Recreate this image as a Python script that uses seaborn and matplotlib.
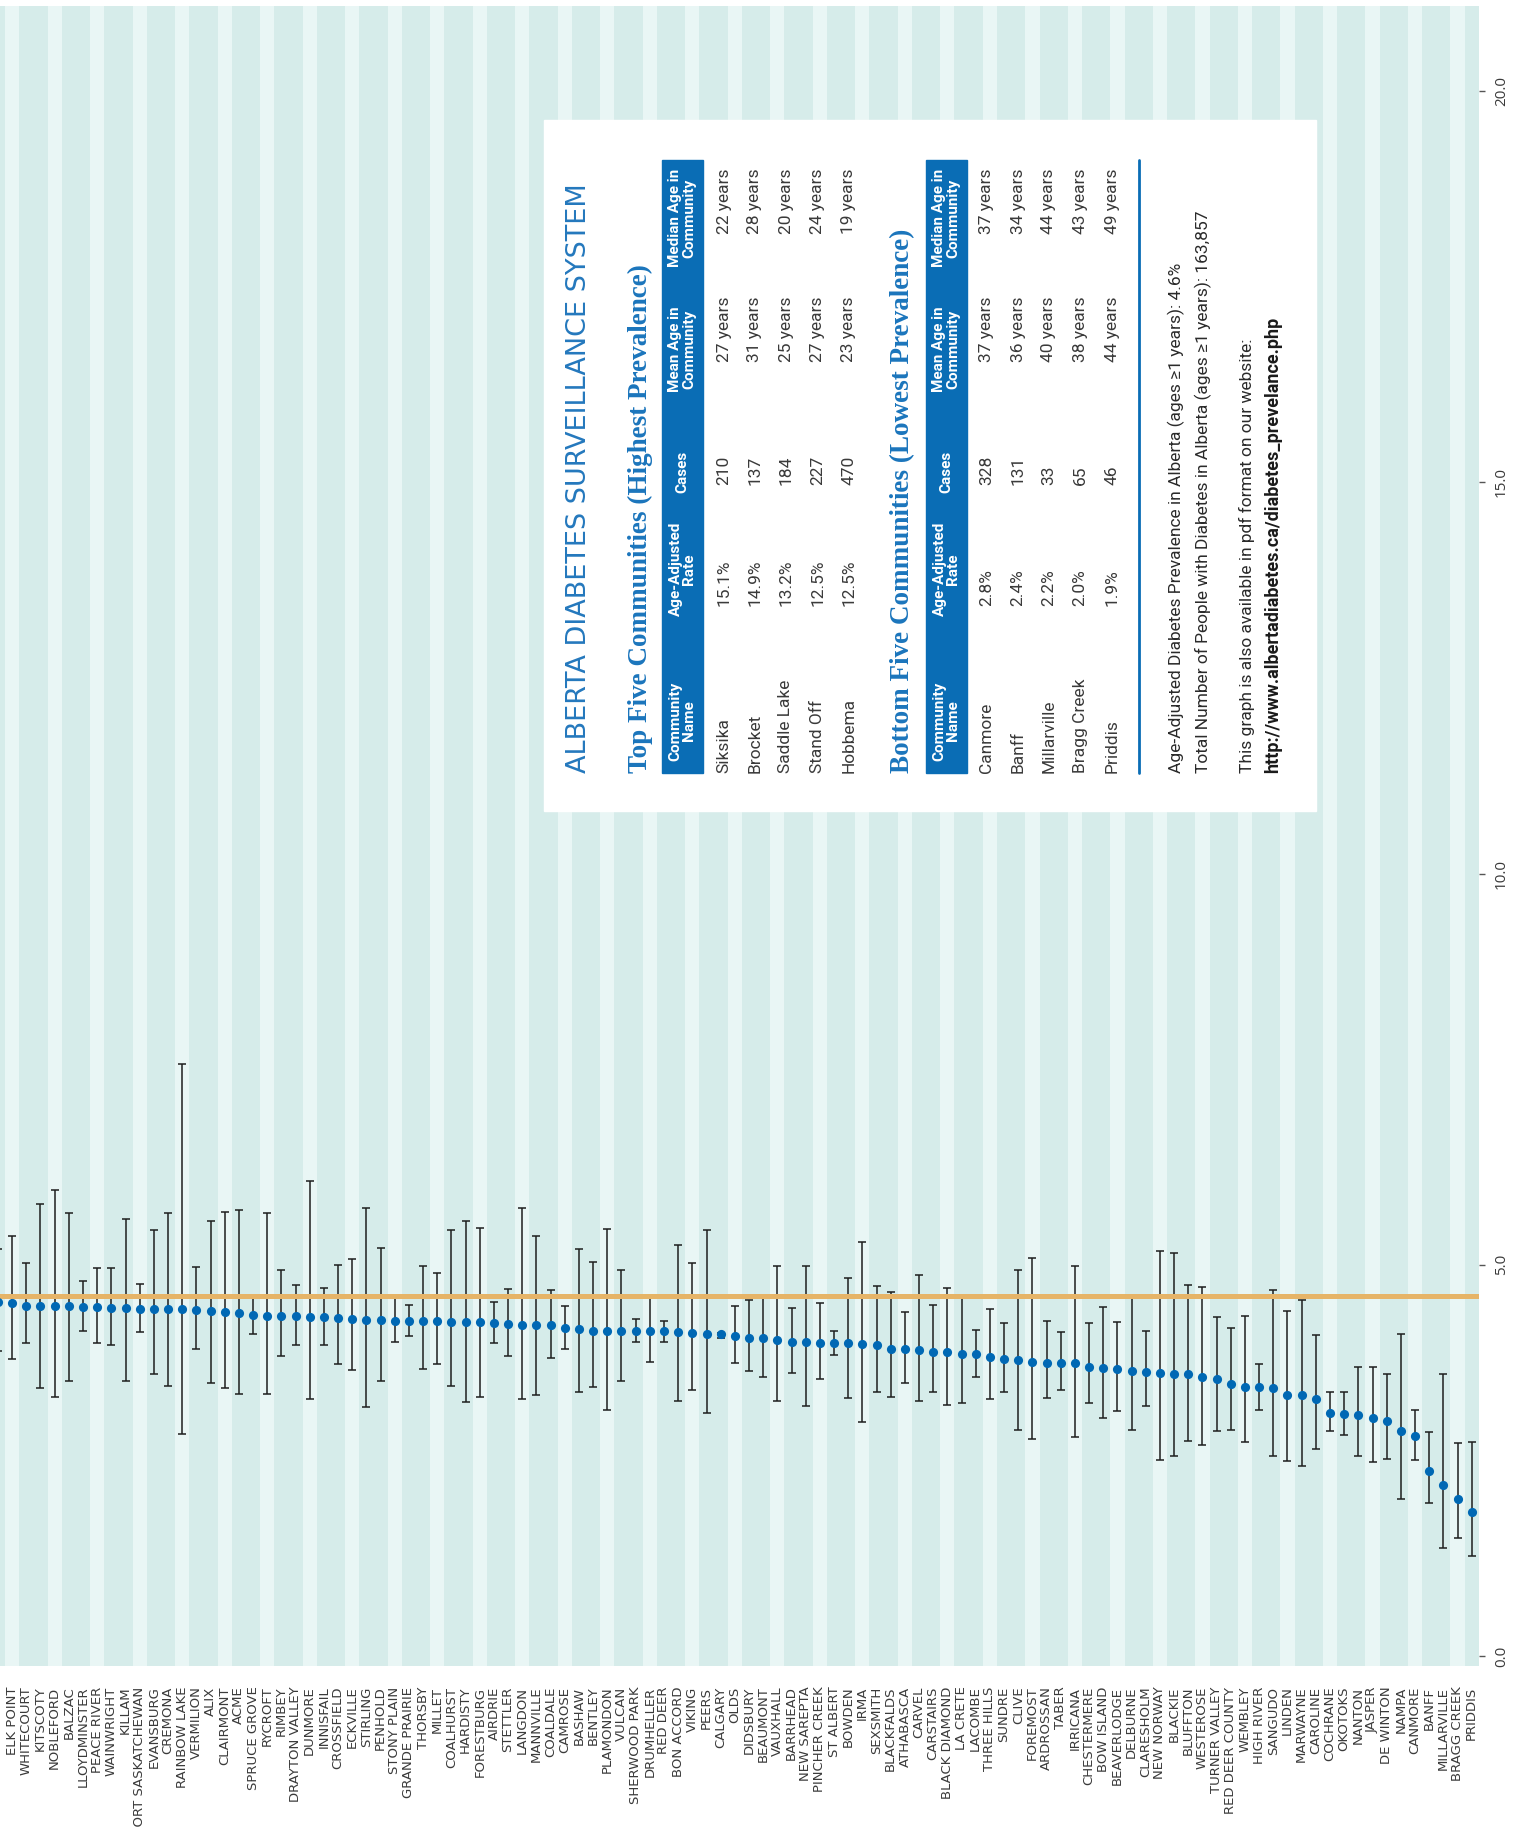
import numpy as np
import pandas as pd
import matplotlib
matplotlib.use("Agg")
import matplotlib.pyplot as plt
from matplotlib.patches import Rectangle
from matplotlib.lines import Line2D
import seaborn as sns

# community rates (age-adjusted %), with lower / upper confidence limits
communities = [
    "HINES CREEK", "ELK POINT", "WHITECOURT", "KITSCOTY", "NOBLEFORD", "BALZAC",
    "LLOYDMINSTER", "PEACE RIVER", "WAINWRIGHT", "KILLAM", "FORT SASKATCHEWAN",
    "EVANSBURG", "CREMONA", "RAINBOW LAKE", "VERMILION", "ALIX", "CLAIRMONT", "ACME",
    "SPRUCE GROVE", "RYCROFT", "RIMBEY", "DRAYTON VALLEY", "DUNMORE", "INNISFAIL",
    "CROSSFIELD", "ECKVILLE", "STIRLING", "PENHOLD", "STONY PLAIN", "GRANDE PRAIRIE",
    "THORSBY", "MILLET", "COALHURST", "HARDISTY", "FORESTBURG", "AIRDRIE", "STETTLER",
    "LANGDON", "MANNVILLE", "COALDALE", "CAMROSE", "BASHAW", "BENTLEY", "PLAMONDON",
    "VULCAN", "SHERWOOD PARK", "DRUMHELLER", "RED DEER", "BON ACCORD", "VIKING",
    "PEERS", "CALGARY", "OLDS", "DIDSBURY", "BEAUMONT", "VAUXHALL", "BARRHEAD",
    "NEW SAREPTA", "PINCHER CREEK", "ST ALBERT", "BOWDEN", "IRMA", "SEXSMITH",
    "BLACKFALDS", "ATHABASCA", "CARVEL", "CARSTAIRS", "BLACK DIAMOND", "LA CRETE",
    "LACOMBE", "THREE HILLS", "SUNDRE", "CLIVE", "FOREMOST", "ARDROSSAN", "TABER",
    "IRRICANA", "CHESTERMERE", "BOW ISLAND", "BEAVERLODGE", "DELBURNE", "CLARESHOLM",
    "NEW NORWAY", "BLACKIE", "BLUFFTON", "WESTEROSE", "TURNER VALLEY",
    "RED DEER COUNTY", "WEMBLEY", "HIGH RIVER", "SANGUDO", "LINDEN", "MARWAYNE",
    "CAROLINE", "COCHRANE", "OKOTOKS", "NANTON", "JASPER", "DE WINTON", "NAMPA",
    "CANMORE", "BANFF", "MILLARVILLE", "BRAGG CREEK", "PRIDDIS",
]
rate = [
    4.52, 4.51, 4.48, 4.48, 4.48, 4.47, 4.46, 4.46, 4.45, 4.45, 4.44, 4.44, 4.43, 4.43,
    4.42, 4.41, 4.40, 4.38, 4.36, 4.35, 4.34, 4.34, 4.33, 4.33, 4.32, 4.31, 4.30, 4.30,
    4.28, 4.28, 4.28, 4.28, 4.27, 4.27, 4.27, 4.25, 4.24, 4.23, 4.23, 4.23, 4.19, 4.18,
    4.16, 4.16, 4.16, 4.15, 4.15, 4.15, 4.14, 4.13, 4.12, 4.11, 4.09, 4.07, 4.06, 4.04,
    4.01, 4.01, 4.00, 4.00, 4.00, 3.99, 3.98, 3.92, 3.92, 3.91, 3.89, 3.89, 3.86, 3.86,
    3.82, 3.79, 3.78, 3.76, 3.75, 3.75, 3.74, 3.70, 3.68, 3.67, 3.64, 3.63, 3.62, 3.61,
    3.60, 3.56, 3.54, 3.48, 3.44, 3.44, 3.43, 3.34, 3.34, 3.28, 3.11, 3.09, 3.08, 3.04,
    3.01, 2.88, 2.81, 2.36, 2.18, 2.01, 1.84,
]
lower = [
    3.90, 3.79, 4.00, 3.43, 3.31, 3.51, 4.15, 4.00, 3.97, 3.52, 4.14, 3.61, 3.45, 2.84,
    3.93, 3.49, 3.42, 3.35, 4.12, 3.35, 3.83, 3.97, 3.28, 3.97, 3.73, 3.65, 3.18, 3.51,
    4.01, 4.09, 3.67, 3.73, 3.45, 3.25, 3.31, 4.00, 3.83, 3.29, 3.34, 3.81, 3.93, 3.38,
    3.44, 3.15, 3.52, 4.01, 3.76, 4.01, 3.26, 3.40, 3.11, 4.07, 3.75, 3.64, 3.56, 3.26,
    3.62, 3.20, 3.54, 3.85, 3.30, 2.99, 3.38, 3.31, 3.49, 3.26, 3.38, 3.21, 3.23, 3.56,
    3.29, 3.38, 2.89, 2.78, 3.30, 3.40, 2.80, 3.23, 3.04, 3.13, 2.89, 3.19, 2.51, 2.56,
    2.75, 2.70, 2.88, 2.89, 2.74, 3.15, 2.56, 2.49, 2.43, 2.64, 2.87, 2.83, 2.56, 2.48,
    2.52, 2.01, 2.51, 1.95, 1.38, 1.51, 1.28,
]
upper = [
    5.20, 5.37, 5.02, 5.78, 5.95, 5.66, 4.79, 4.96, 4.96, 5.59, 4.75, 5.44, 5.66, 7.57,
    4.97, 5.56, 5.67, 5.70, 4.60, 5.66, 4.93, 4.74, 6.07, 4.71, 5.00, 5.08, 5.73, 5.21,
    4.57, 4.49, 4.99, 4.90, 5.45, 5.56, 5.47, 4.53, 4.69, 5.73, 5.37, 4.68, 4.47, 5.20,
    5.04, 5.46, 4.93, 4.31, 4.59, 4.28, 5.25, 5.02, 5.45, 4.13, 4.47, 4.55, 4.61, 4.98,
    4.45, 4.99, 4.51, 4.16, 4.83, 5.29, 4.73, 4.65, 4.40, 4.87, 4.49, 4.71, 4.59, 4.17,
    4.44, 4.26, 4.94, 5.09, 4.28, 4.14, 4.99, 4.26, 4.46, 4.27, 4.58, 4.15, 5.18, 5.15,
    4.74, 4.72, 4.33, 4.19, 4.34, 3.73, 4.68, 4.41, 4.55, 4.10, 3.38, 3.37, 3.70, 3.70,
    3.60, 4.11, 3.15, 2.86, 3.61, 2.72, 2.73,
]
alberta_rate = 4.6
y_ticks = [0.0, 5.0, 10.0, 15.0, 20.0]

# inset tables
top_names = ["Siksika", "Brocket", "Saddle Lake", "Stand Off", "Hobbema"]
top_rates = ["15.1%", "14.9%", "13.2%", "12.5%", "12.5%"]
top_cases = ["210", "137", "184", "227", "470"]
top_mean = ["27 years", "31 years", "25 years", "27 years", "23 years"]
top_median = ["22 years", "28 years", "20 years", "24 years", "19 years"]

bot_names = ["Canmore", "Banff", "Millarville", "Bragg Creek", "Priddis"]
bot_rates = ["2.8%", "2.4%", "2.2%", "2.0%", "1.9%"]
bot_cases = ["328", "131", "33", "65", "46"]
bot_mean = ["37 years", "36 years", "40 years", "38 years", "44 years"]
bot_median = ["37 years", "34 years", "44 years", "43 years", "49 years"]

headers = ["Community\nName", "Age-Adjusted\nRate", "Cases",
           "Mean Age in\nCommunity", "Median Age in\nCommunity"]

df = pd.DataFrame({"community": communities, "rate": rate,
                   "lower": lower, "upper": upper})

sns.set_theme(style="white")
plt.rcParams["font.family"] = ["DejaVu Sans"]

W, H = 1518, 1828
fig = plt.figure(figsize=(W / 100, H / 100), dpi=100)
ax = fig.add_axes([-9.1 / W, 1 - 1665.7 / H, 1487.9 / W, 1659.7 / H])

dark = "#d6ecea"
light = "#e9f6f5"
blue = "#0a6db5"

n = len(df)
for i in range(n):
    ax.axvspan(i - 0.5, i + 0.5, color=light if i % 3 == 1 else dark,
               lw=0, zorder=0)

x = np.arange(n)
ax.errorbar(x, df["rate"], yerr=[df["rate"] - df["lower"], df["upper"] - df["rate"]],
            fmt="none", ecolor="#1e1e1e", elinewidth=1.1, capsize=2.6,
            capthick=1.1, zorder=2)
ax.axhline(alberta_rate, color="#e6b468", lw=3.6, zorder=2.5)
sns.stripplot(data=df, x="community", y="rate", order=communities, jitter=False,
              color="#0068b4", size=6.6, linewidth=0, zorder=3, ax=ax)

ax.set_xlim(-0.5, n - 0.5)
ax.set_ylim(-0.124, 21.09)
ax.set_xlabel("")
ax.set_ylabel("")
for s in ax.spines.values():
    s.set_visible(False)

ax.tick_params(axis="x", length=0, pad=15, labelsize=9.5, labelcolor="#3a3a3a",
               labelrotation=90)
ax.yaxis.tick_right()
ax.set_yticks(y_ticks)
ax.set_yticklabels([f"{v:.1f}" for v in y_ticks], rotation=90, va="center",
                   ha="left", family=["Open Sans", "DejaVu Sans"], fontsize=11,
                   color="#3a3a3a")
ax.tick_params(axis="y", right=True, length=4, width=1, color="#555555", pad=7)

# white panel with the tables, rotated like the chart
fig.add_artist(Rectangle((544 / W, 1 - 811 / H), (1316 - 544) / W, (811 - 120) / H,
                         transform=fig.transFigure, color="white", zorder=1))


def ftext(px, py, s, **kw):
    fig.text(px / W, 1 - py / H, s, rotation=90, **kw)


narrow = ["Liberation Sans Narrow", "Roboto", "DejaVu Sans"]
serif = ["Liberation Serif", "DejaVu Serif"]

ftext(579, 773, "ALBERTA DIABETES SURVEILLANCE SYSTEM", ha="center", va="bottom",
      fontsize=19.5, color="#2478bd", family=["DejaVu Sans"])

col_start = [773, 606, 485, 362, 234]
head_mid = [721, 569, 472, 349, 218]


def draw_table(title, title_x, box_x0, box_x1, row_x, cols):
    ftext(title_x, 773, title, ha="center", va="bottom", fontsize=19.5,
          fontweight="bold", color="#1b75bc", family=serif)
    fig.add_artist(Rectangle((box_x0 / W, 1 - 773 / H), (box_x1 - box_x0) / W,
                             (773 - 160) / H, transform=fig.transFigure,
                             color=blue, zorder=1.5))
    for h, ym in zip(headers, head_mid):
        ftext((box_x0 + box_x1) / 2, ym, h, ha="center", va="center",
              multialignment="center", fontsize=11, fontweight="bold",
              color="white", family=narrow, linespacing=1.0)
    for r, rx in enumerate(row_x):
        for c, ys in enumerate(col_start):
            ftext(rx, ys, cols[c][r], ha="center", va="bottom", fontsize=12.5,
                  color="#3a3a3a", family=narrow)


draw_table("Top Five Communities (Highest Prevalence)", 640, 662, 703,
           [724, 755, 786, 818, 849],
           [top_names, top_rates, top_cases, top_mean, top_median])
draw_table("Bottom Five Communities (Lowest Prevalence)", 903, 926, 967,
           [987, 1018, 1049, 1080, 1112],
           [bot_names, bot_rates, bot_cases, bot_mean, bot_median])

fig.add_artist(Line2D([1139 / W, 1139 / W], [1 - 160 / H, 1 - 773 / H],
                      transform=fig.transFigure, color=blue, lw=2, zorder=1.5))

ftext(1176, 773, "Age-Adjusted Diabetes Prevalence in Alberta (ages \u22651 years): 4.6%",
      ha="center", va="bottom", fontsize=12.5, color="#2a2a2a", family=narrow)
ftext(1203, 773, "Total Number of People with Diabetes in Alberta (ages \u22651 years): 163,857",
      ha="center", va="bottom", fontsize=12.5, color="#2a2a2a", family=narrow)
ftext(1247, 773, "This graph is also available in pdf format on our website:",
      ha="center", va="bottom", fontsize=12.5, color="#2a2a2a", family=narrow)
ftext(1273, 773, "http://www.albertadiabetes.ca/diabetes_prevelance.php",
      ha="center", va="bottom", fontsize=13, fontweight="bold", color="#1a1a1a",
      family=narrow)

fig.savefig("out.png", dpi=100)
